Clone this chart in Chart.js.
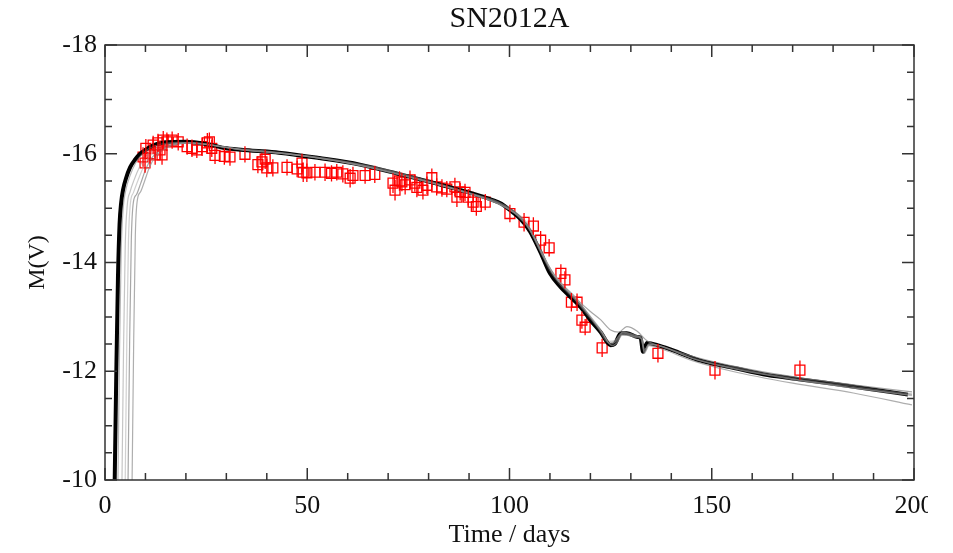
<!DOCTYPE html>
<html>
<head>
<meta charset="utf-8">
<script src="https://cdn.jsdelivr.net/npm/chart.js@4/dist/chart.umd.min.js"></script>
<style>
  body { margin: 0; background: #fff; }
</style>
</head>
<body>
<canvas id="lc" width="928" height="553"></canvas>
<script>
// observed V-band points (days, mag, error)
const obsT = [9.4, 9.9, 10.1, 11.1, 11.9, 12.4, 13.1, 13.6, 14.1, 14.4,
  15.3, 16.6, 18.1, 20.3, 21.5, 22.7, 24.0, 25.3, 25.8, 26.4,
  27.2, 29.5, 30.9, 34.6, 37.8, 38.8, 39.6, 40.0, 41.5, 45.0,
  47.5, 48.7, 49.0, 49.9, 51.9, 54.4, 56.0, 57.3, 58.8, 60.6,
  61.3, 64.3, 66.7, 71.2, 71.7, 72.8, 73.4, 74.2, 75.4, 76.6,
  77.1, 78.6, 79.6, 80.8, 82.0, 83.3, 84.5, 86.5, 87.0, 87.8,
  89.0, 89.8, 91.0, 91.8, 94.0, 100.1, 103.6, 105.9, 107.7, 109.8,
  112.7, 113.7, 115.3, 116.7, 117.9, 118.7, 122.9, 136.7, 150.8, 171.8];
const obsMag = [-15.94, -15.83, -16.10, -16.00, -16.16, -15.98, -16.20, -16.07, -15.98, -16.25,
  -16.22, -16.25, -16.22, -16.13, -16.10, -16.07, -16.13, -16.20, -16.22, -16.10,
  -15.97, -15.95, -15.94, -15.99, -15.80, -15.85, -15.90, -15.74, -15.74, -15.75,
  -15.72, -15.83, -15.66, -15.65, -15.66, -15.66, -15.64, -15.66, -15.63, -15.55,
  -15.60, -15.60, -15.62, -15.46, -15.33, -15.50, -15.48, -15.43, -15.52, -15.46,
  -15.38, -15.33, -15.42, -15.56, -15.39, -15.37, -15.35, -15.39, -15.20, -15.30,
  -15.29, -15.20, -15.11, -15.03, -15.11, -14.90, -14.74, -14.67, -14.41, -14.27,
  -13.80, -13.68, -13.27, -13.27, -12.94, -12.81, -12.43, -12.33, -12.02, -12.02];
const obsErr = [0.18, 0.18, 0.17, 0.18, 0.17, 0.18, 0.17, 0.18, 0.18, 0.17,
  0.17, 0.16, 0.16, 0.15, 0.16, 0.15, 0.17, 0.18, 0.17, 0.16,
  0.16, 0.15, 0.16, 0.15, 0.16, 0.17, 0.18, 0.17, 0.16, 0.15,
  0.15, 0.17, 0.18, 0.17, 0.15, 0.16, 0.15, 0.15, 0.16, 0.17,
  0.16, 0.15, 0.16, 0.18, 0.19, 0.18, 0.17, 0.18, 0.17, 0.16,
  0.18, 0.17, 0.16, 0.17, 0.16, 0.16, 0.15, 0.17, 0.18, 0.16,
  0.16, 0.15, 0.16, 0.17, 0.15, 0.16, 0.17, 0.16, 0.17, 0.16,
  0.17, 0.16, 0.17, 0.16, 0.16, 0.15, 0.17, 0.17, 0.17, 0.18];

// best model (thick black)
const modelBest = [[2.4,-10],[2.8,-12.0],[3.2,-13.7],[3.6,-14.7],[4.0,-15.1],[4.5,-15.35],[5.2,-15.55],
  [6.2,-15.75],[7.5,-15.9],[8.7,-16.0],[11,-16.12],[15,-16.21],[20,-16.22],[25,-16.18],[30,-16.1],
  [36,-16.06],[43,-16.02],[53,-15.92],[63,-15.8],[73,-15.62],[83,-15.43],[93,-15.22],[98,-15.08],
  [100,-14.97],[102.7,-14.8],[105,-14.58],[107.7,-14.18],[110,-13.8],[112.6,-13.55],[115,-13.37],
  [117.6,-13.18],[120,-12.94],[122.5,-12.72],[125,-12.48],[126,-12.5],[127.5,-12.7],[129,-12.7],
  [131.6,-12.63],[132.4,-12.62],[133,-12.36],[134,-12.52],[137,-12.47],[142,-12.34],[147,-12.2],
  [155.5,-12.06],[163.8,-11.93],[172,-11.85],[180,-11.77],[188.6,-11.68],[198.5,-11.57]];

// other models (thin grey)
const modelA = [[3.2,-10],[3.6,-12.4],[4.0,-14.2],[4.5,-15.0],[5.2,-15.35],[6.2,-15.6],[7.5,-15.82],[9,-15.98],
  [11,-16.1],[14,-16.18],[18,-16.21],[25,-16.18],[32,-16.09],[40,-16.04],[50,-15.96],[60,-15.84],[70,-15.68],
  [80,-15.48],[90,-15.28],[97,-15.1],[101,-14.92],[104,-14.72],[107,-14.3],[110,-13.85],[113,-13.55],
  [116,-13.33],[119,-13.06],[122,-12.78],[124.5,-12.52],[126,-12.55],[128,-12.72],[131,-12.65],[132.5,-12.6],
  [133.3,-12.38],[134.5,-12.5],[138,-12.45],[145,-12.25],[155,-12.07],[170,-11.87],[185,-11.72],[199.5,-11.58]];
const modelB = [[4.2,-10],[4.6,-12.5],[5.0,-14.3],[5.5,-15.05],[6.2,-15.3],[7.2,-15.52],[8.5,-15.75],[10,-15.95],
  [12,-16.08],[15,-16.17],[19,-16.2],[25,-16.17],[32,-16.1],[40,-16.05],[50,-15.96],[60,-15.85],[70,-15.7],
  [80,-15.5],[90,-15.28],[97,-15.12],[101,-14.95],[104,-14.76],[107,-14.35],[110,-13.9],[113,-13.6],
  [116,-13.38],[119,-13.1],[122,-12.82],[124.8,-12.55],[126.3,-12.58],[128,-12.72],[131.2,-12.66],[132.6,-12.6],
  [133.4,-12.4],[134.6,-12.5],[138,-12.44],[145,-12.24],[155,-12.06],[170,-11.86],[185,-11.7],[199.5,-11.56]];
const modelC = [[5.0,-10],[5.4,-12.6],[5.8,-14.4],[6.3,-15.1],[7.0,-15.28],[8.0,-15.48],[9.3,-15.72],[11,-15.95],
  [13,-16.08],[16,-16.17],[20,-16.2],[26,-16.16],[33,-16.08],[41,-16.03],[51,-15.94],[61,-15.82],[71,-15.66],
  [81,-15.46],[91,-15.25],[97,-15.1],[101,-14.93],[104,-14.73],[107.5,-14.25],[110.5,-13.82],[113.5,-13.56],
  [116.5,-13.35],[119.5,-13.05],[122.5,-12.75],[125,-12.5],[126.5,-12.56],[128,-12.7],[131.5,-12.64],[132.7,-12.63],
  [133.4,-12.36],[134.4,-12.5],[138,-12.45],[145,-12.24],[155,-12.05],[170,-11.85],[185,-11.69],[199.5,-11.55]];
const modelD = [[5.7,-10],[6.1,-12.6],[6.5,-14.4],[7.0,-15.1],[7.8,-15.25],[8.8,-15.45],[10,-15.7],[11.5,-15.92],
  [13.5,-16.06],[16.5,-16.16],[21,-16.2],[27,-16.15],[34,-16.07],[42,-16.02],[52,-15.93],[62,-15.8],[72,-15.63],
  [82,-15.44],[92,-15.22],[98,-15.05],[102,-14.86],[105,-14.6],[108,-14.15],[111,-13.78],[114,-13.52],
  [117,-13.3],[120,-13.1],[122.5,-12.95],[125,-12.76],[127,-12.72],[129,-12.82],[131.5,-12.74],[134,-12.56],
  [138,-12.45],[145,-12.28],[155,-12.1],[170,-11.9],[185,-11.75],[199.5,-11.62]];
const modelE = [[6.7,-10],[7.1,-12.6],[7.5,-14.5],[8.0,-15.15],[8.8,-15.3],[9.8,-15.5],[11,-15.75],[12.5,-15.95],
  [14.5,-16.08],[17.5,-16.17],[22,-16.2],[28,-16.14],[35,-16.06],[43,-16.01],[53,-15.92],[63,-15.79],[73,-15.61],
  [83,-15.42],[93,-15.2],[98.5,-15.03],[102.5,-14.84],[105.5,-14.55],[108.5,-14.1],[111.5,-13.72],[114.5,-13.47],
  [117.5,-13.22],[120.5,-12.95],[123,-12.7],[125.3,-12.47],[126.5,-12.52],[128,-12.68],[131.5,-12.62],[132.6,-12.6],
  [133.3,-12.33],[134.5,-12.47],[138,-12.4],[145,-12.2],[155,-12.0],[170,-11.78],[185,-11.6],[199.5,-11.38]];

const xTicks = [0, 50, 100, 150, 200];
const yTicks = [-18, -16, -14, -12, -10];
const plotTitle = 'SN2012A';

const toXY = arr => arr.map(p => ({x: p[0], y: p[1]}));
const greyLine = (arr, col) => ({
  data: toXY(arr), showLine: true, pointRadius: 0, borderColor: col,
  borderWidth: 1.2, cubicInterpolationMode: 'monotone', clip: 0
});

const serif = 'Liberation Serif';

// IDL style frame: box with inward ticks on all four sides, title over the plot box
const frame = {
  id: 'frame',
  afterDraw(chart) {
    const {ctx, chartArea: a, scales: {x, y}} = chart;
    ctx.save();
    ctx.strokeStyle = '#333';
    ctx.lineWidth = 1.5;
    ctx.strokeRect(a.left, a.top, a.right - a.left, a.bottom - a.top);
    ctx.beginPath();
    for (let v = 0; v <= 200; v += 10) {
      const px = x.getPixelForValue(v);
      const len = v % 50 === 0 ? 12 : 7;
      ctx.moveTo(px, a.bottom); ctx.lineTo(px, a.bottom - len);
      ctx.moveTo(px, a.top); ctx.lineTo(px, a.top + len);
    }
    for (let v = -18; v <= -10; v += 0.5) {
      const py = y.getPixelForValue(v);
      const len = v % 2 === 0 ? 12 : 7;
      ctx.moveTo(a.left, py); ctx.lineTo(a.left + len, py);
      ctx.moveTo(a.right, py); ctx.lineTo(a.right - len, py);
    }
    ctx.stroke();
    ctx.fillStyle = '#111';
    ctx.font = '30px "' + serif + '"';
    ctx.textAlign = 'center';
    ctx.textBaseline = 'middle';
    ctx.fillText(plotTitle, (a.left + a.right) / 2, 19);
    ctx.restore();
  }
};

// vertical error bars through the squares
const errorBars = {
  id: 'errorBars',
  afterDatasetsDraw(chart) {
    const {ctx, scales: {x, y}} = chart;
    ctx.save();
    ctx.strokeStyle = '#ff0000';
    ctx.lineWidth = 1.3;
    ctx.beginPath();
    obsT.forEach((t, i) => {
      const px = x.getPixelForValue(t);
      ctx.moveTo(px, y.getPixelForValue(obsMag[i] - obsErr[i]));
      ctx.lineTo(px, y.getPixelForValue(obsMag[i] + obsErr[i]));
    });
    ctx.stroke();
    ctx.restore();
  }
};

new Chart(document.getElementById('lc'), {
  type: 'scatter',
  data: {
    datasets: [
      greyLine(modelA, 'rgba(120,120,120,0.55)'),
      greyLine(modelB, 'rgba(150,150,150,0.55)'),
      greyLine(modelC, 'rgba(170,170,170,0.55)'),
      greyLine(modelD, 'rgba(130,130,130,0.7)'),
      greyLine(modelE, 'rgba(140,140,140,0.7)'),
      {
        data: toXY(modelBest), showLine: true, pointRadius: 0, borderColor: '#000',
        borderWidth: 4, cubicInterpolationMode: 'monotone', clip: 0
      },
      {
        data: obsT.map((t, i) => ({x: t, y: obsMag[i]})),
        pointStyle: 'rect', pointRadius: 7, pointBorderWidth: 1.3,
        pointBorderColor: '#ff0000', pointBackgroundColor: 'rgba(0,0,0,0)', showLine: false
      }
    ]
  },
  options: {
    responsive: false,
    animation: false,
    layout: { padding: { left: 0, right: 14, top: 45, bottom: 0 } },
    plugins: {
      legend: { display: false },
      tooltip: { enabled: false },
      title: { display: false }
    },
    scales: {
      x: {
        type: 'linear', min: 0, max: 200,
        afterFit: s => { s.height = 73; s.paddingRight = 0; s.paddingLeft = 0; },
        afterBuildTicks: s => { s.ticks = xTicks.map(v => ({value: v})); },
        grid: { display: false, drawTicks: false },
        border: { display: false },
        ticks: { color: '#111', padding: 11, maxRotation: 0, font: { family: serif, size: 26 } },
        title: {
          display: true, text: 'Time / days', color: '#111',
          font: { family: serif, size: 26 }, padding: { top: 0, bottom: 2 }
        }
      },
      y: {
        type: 'linear', min: -18, max: -10, reverse: true,
        afterFit: s => { s.width = 105; s.paddingTop = 0; s.paddingBottom = 0; },
        afterBuildTicks: s => { s.ticks = yTicks.map(v => ({value: v})); },
        grid: { display: false, drawTicks: false },
        border: { display: false },
        ticks: { color: '#111', padding: 8, font: { family: serif, size: 26 } },
        title: {
          display: true, text: 'M(V)', color: '#111',
          font: { family: serif, size: 24 }, padding: { top: 23, bottom: 0 }
        }
      }
    }
  },
  plugins: [frame, errorBars]
});
</script>
</body>
</html>
